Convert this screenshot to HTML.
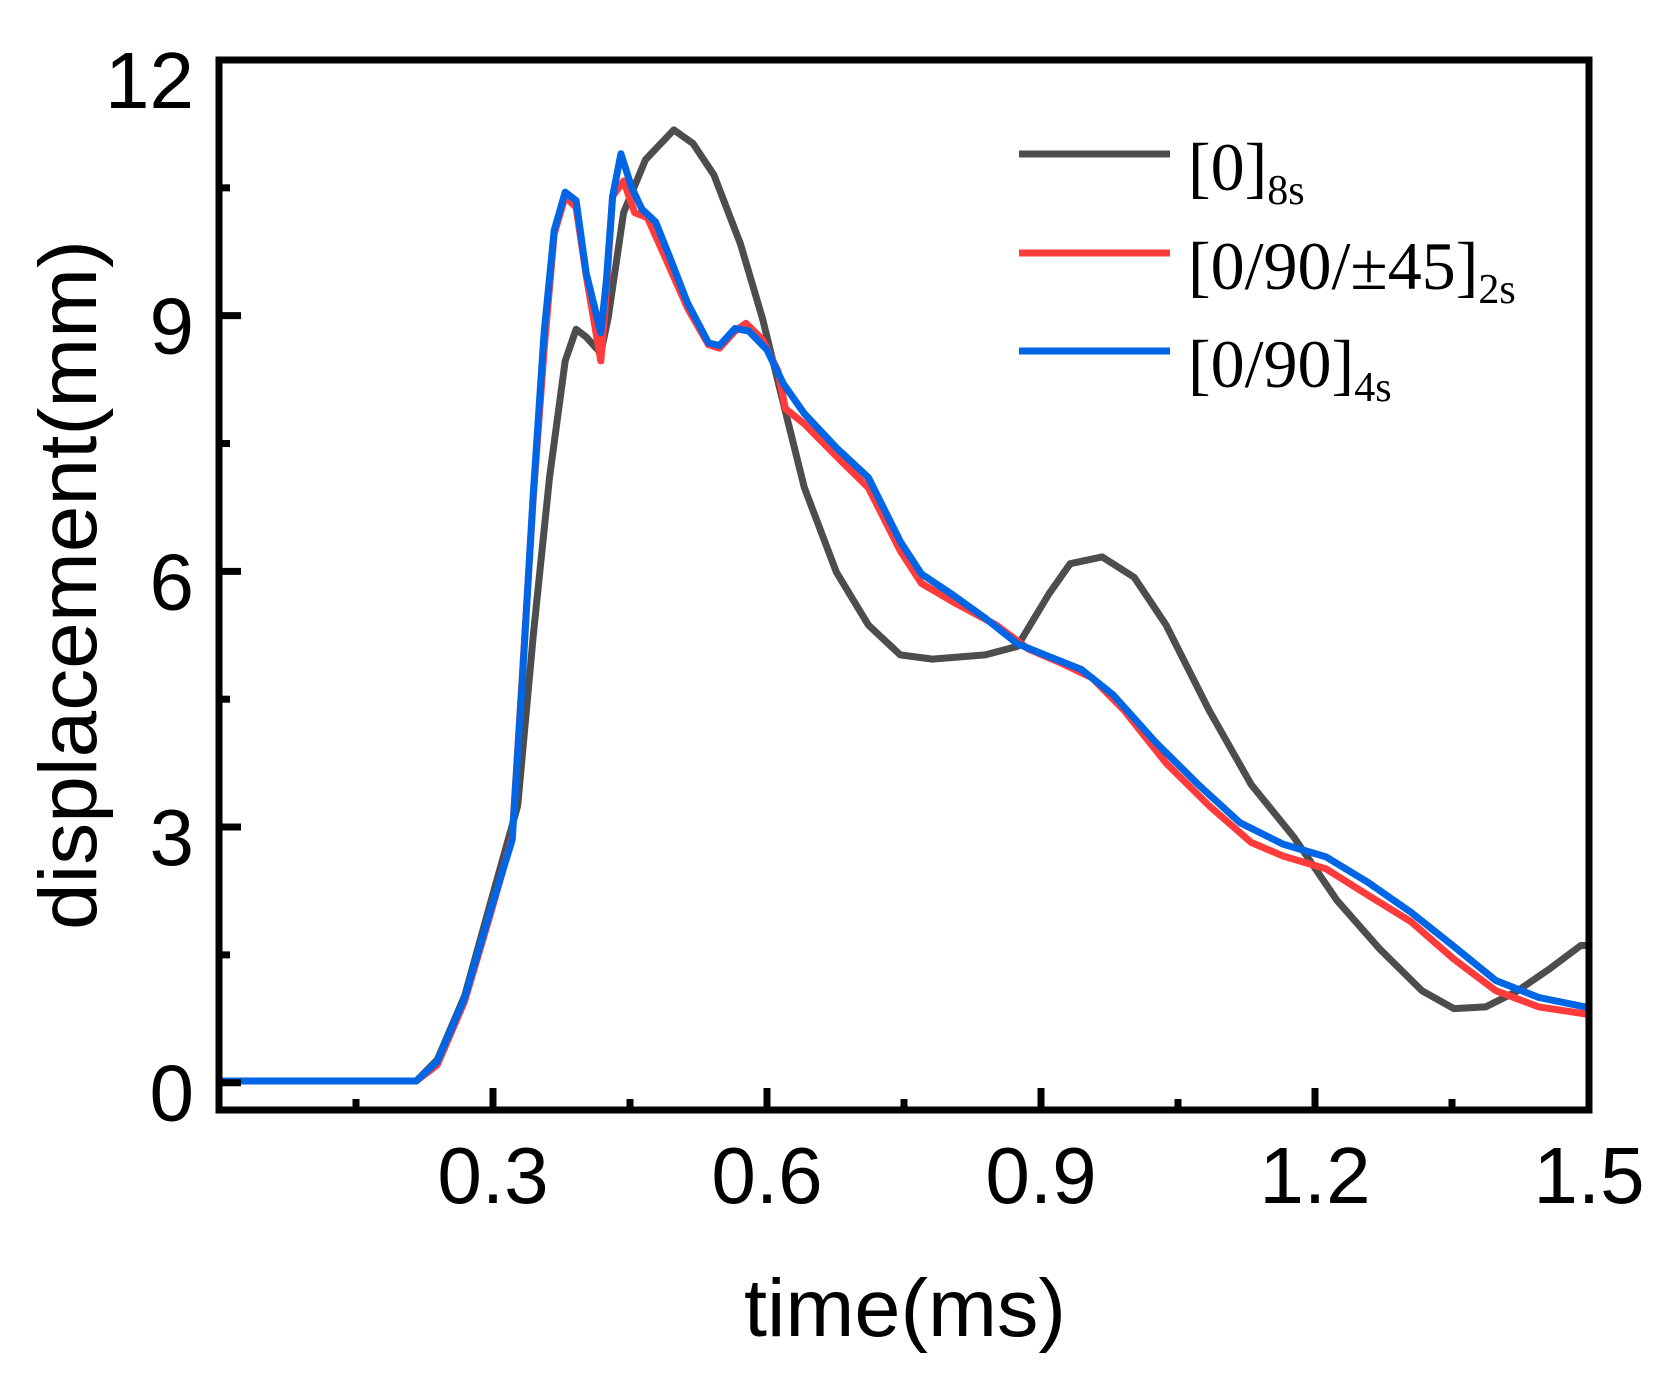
<!DOCTYPE html>
<html><head><meta charset="utf-8"><style>html,body{margin:0;padding:0;background:#fff}svg{display:block}</style></head>
<body>
<svg id="chart" width="1663" height="1384" viewBox="0 0 1663 1384" xmlns="http://www.w3.org/2000/svg">
<g id="marks"></g>
<g id="axes"></g>
<text transform="translate(96,585) rotate(-90)" text-anchor="middle" font-family="Liberation Sans, sans-serif" font-size="82" textLength="690" lengthAdjust="spacingAndGlyphs">displacement(mm)</text>
<text x="905" y="1336" text-anchor="middle" font-family="Liberation Sans, sans-serif" font-size="82" textLength="322" lengthAdjust="spacingAndGlyphs">time(ms)</text>
<g font-family="Liberation Serif, serif">
 <g><line x1="1019" y1="154" x2="1170" y2="154" stroke="#4d4d4d" stroke-width="7"/><text x="1188" y="190" font-size="68">[0]<tspan font-size="42" dy="14">8s</tspan></text></g>
 <g><line x1="1019" y1="253" x2="1170" y2="253" stroke="#ff3b3b" stroke-width="7"/><text x="1188" y="289" font-size="68">[0/90/±45]<tspan font-size="42" dy="14">2s</tspan></text></g>
 <g><line x1="1019" y1="351" x2="1170" y2="351" stroke="#0066e6" stroke-width="7"/><text x="1188" y="387" font-size="68">[0/90]<tspan font-size="42" dy="14">4s</tspan></text></g>
</g>
</svg>
<script>
const xTicks=[0.3,0.6,0.9,1.2,1.5];
const xTickLabels=["0.3","0.6","0.9","1.2","1.5"];
const xMinorTicks=[0.15,0.45,0.75,1.05,1.35];
const yTicks=[0,3,6,9,12];
const yTickLabels=["0","3","6","9","12"];
const yMinorTicks=[1.5,4.5,7.5,10.5];
const grayT=[0,0.216,0.239,0.269,0.298,0.327,0.344,0.362,0.379,0.391,0.402,0.418,0.426,0.443,0.467,0.498,0.519,0.542,0.571,0.595,0.618,0.641,0.676,0.711,0.746,0.781,0.839,0.874,0.909,0.932,0.967,1.002,1.037,1.084,1.130,1.177,1.224,1.270,1.317,1.352,1.387,1.422,1.456,1.491,1.5];
const grayV=[0.02,0.02,0.27,1.02,2.14,3.25,5.24,7.11,8.47,8.84,8.75,8.56,8.97,10.21,10.83,11.18,11.02,10.65,9.84,8.97,7.97,6.98,5.99,5.37,5.02,4.97,5.02,5.12,5.74,6.09,6.17,5.93,5.37,4.37,3.50,2.88,2.14,1.58,1.08,0.87,0.89,1.08,1.33,1.61,1.61];
const redT=[0,0.216,0.239,0.269,0.298,0.321,0.332,0.344,0.356,0.367,0.379,0.391,0.402,0.418,0.422,0.431,0.443,0.455,0.469,0.490,0.513,0.536,0.548,0.565,0.577,0.595,0.612,0.620,0.641,0.676,0.711,0.746,0.769,0.804,0.851,0.886,0.921,0.956,0.991,1.037,1.084,1.130,1.165,1.212,1.258,1.305,1.352,1.398,1.445,1.5];
const redV=[0.02,0.02,0.21,0.96,2.01,2.88,4.75,6.86,8.6,9.96,10.4,10.27,9.47,8.47,8.97,10.4,10.58,10.21,10.15,9.65,9.09,8.66,8.62,8.82,8.91,8.72,8.35,7.91,7.73,7.35,6.98,6.24,5.86,5.64,5.37,5.09,4.93,4.75,4.37,3.75,3.25,2.82,2.66,2.51,2.20,1.89,1.45,1.08,0.89,0.80];
const blueT=[0,0.216,0.239,0.269,0.298,0.321,0.332,0.344,0.356,0.367,0.379,0.391,0.402,0.418,0.424,0.431,0.440,0.452,0.463,0.478,0.493,0.513,0.536,0.548,0.565,0.580,0.600,0.618,0.641,0.676,0.711,0.746,0.769,0.804,0.839,0.874,0.909,0.944,0.979,1.025,1.072,1.118,1.165,1.212,1.258,1.305,1.352,1.398,1.445,1.5];
const blueV=[0.02,0.02,0.25,1.0,2.05,2.85,4.7,6.9,8.8,10.0,10.45,10.35,9.5,8.8,9.4,10.4,10.9,10.5,10.25,10.1,9.7,9.15,8.68,8.65,8.85,8.82,8.6,8.2,7.85,7.45,7.1,6.35,5.97,5.72,5.45,5.15,5.0,4.85,4.55,4.0,3.5,3.05,2.8,2.65,2.35,2.0,1.6,1.2,1.0,0.88];

const L=219,R=1589,T=60,B=1110,XMIN=0,XMAX=1.5,YMIN=-0.32,YMAX=12;
const xs=v=>L+(v-XMIN)/(XMAX-XMIN)*(R-L);
const ys=v=>B-(v-YMIN)/(YMAX-YMIN)*(B-T);
const NS="http://www.w3.org/2000/svg";
const marks=document.getElementById('marks'),axes=document.getElementById('axes');
function mk(tag,attrs,parent){const e=document.createElementNS(NS,tag);for(const k in attrs)e.setAttribute(k,attrs[k]);parent.appendChild(e);return e;}

const series=[[grayT,grayV,'#4d4d4d','series-0-8s'],[redT,redV,'#ff3b3b','series-0-90-45-2s'],[blueT,blueV,'#0066e6','series-0-90-4s']];
series.forEach(s=>{
  const d=s[0].map((t,i)=>(i?'L':'M')+xs(t).toFixed(1)+','+ys(s[1][i]).toFixed(1)).join('');
  const p=mk('path',{d:d,fill:'none',stroke:s[2],'stroke-width':7,'stroke-linejoin':'round'},marks);
  
  
});

const frame=mk('rect',{x:L,y:T,width:R-L,height:B-T,fill:'none',stroke:'#000','stroke-width':7},axes);


xTicks.forEach((v,i)=>{
  const tk=mk('line',{x1:xs(v),x2:xs(v),y1:B,y2:B-22,stroke:'#000','stroke-width':7},axes);
  
  
  const tl=mk('text',{x:xs(v),y:1203,'text-anchor':'middle','font-family':'Liberation Sans, sans-serif','font-size':80},axes);
  tl.textContent=xTickLabels[i];
  
  
});
xMinorTicks.forEach(v=>{
  const tk=mk('line',{x1:xs(v),x2:xs(v),y1:B,y2:B-11,stroke:'#000','stroke-width':7},axes);
  
  
});
yTicks.forEach((v,i)=>{
  const tk=mk('line',{x1:L,x2:L+22,y1:ys(v),y2:ys(v),stroke:'#000','stroke-width':7},axes);
  
  
  const tl=mk('text',{x:194,y:Math.max(ys(v)+38,108),'text-anchor':'end','font-family':'Liberation Sans, sans-serif','font-size':80},axes);
  tl.textContent=yTickLabels[i];
  
  
});
yMinorTicks.forEach(v=>{
  const tk=mk('line',{x1:L,x2:L+11,y1:ys(v),y2:ys(v),stroke:'#000','stroke-width':7},axes);
  
  
});
</script>
</body></html>
